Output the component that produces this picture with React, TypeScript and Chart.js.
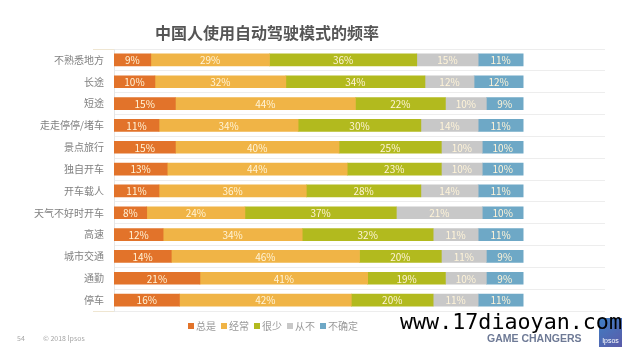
import React, { useEffect, useRef } from "react";
import { Chart, registerables } from "chart.js";

Chart.register(...registerables);

const categories = [
  "不熟悉地方",
  "长途",
  "短途",
  "走走停停/堵车",
  "景点旅行",
  "独自开车",
  "开车载人",
  "天气不好时开车",
  "高速",
  "城市交通",
  "通勤",
  "停车",
];

const seriesNames = ["总是", "经常", "很少", "从不", "不确定"];
const seriesColors = ["#E2732A", "#F0B446", "#B2BA1E", "#C8C8C8", "#6EA8C6"];

const always = [9, 10, 15, 11, 15, 13, 11, 8, 12, 14, 21, 16];
const often = [29, 32, 44, 34, 40, 44, 36, 24, 34, 46, 41, 42];
const rarely = [36, 34, 22, 30, 25, 23, 28, 37, 32, 20, 19, 20];
const never = [15, 12, 10, 14, 10, 10, 14, 21, 11, 11, 10, 11];
const unsure = [11, 12, 9, 11, 10, 10, 11, 10, 11, 9, 9, 11];

const seriesValues = [always, often, rarely, never, unsure];

const titleText = "中国人使用自动驾驶模式的频率";
const watermarkText = "www.17diaoyan.com";
const FONT = "'Noto Sans CJK SC', 'Noto Sans', sans-serif";

const decorPlugin = {
  id: "decor",
  afterDatasetsDraw(chart: any) {
    const ctx = chart.ctx;
    ctx.save();
    ctx.font = `10px ${FONT}`;
    ctx.textAlign = "center";
    ctx.textBaseline = "middle";
    ctx.fillStyle = "#FFF4D8";
    chart.data.datasets.forEach((ds: any, di: number) => {
      const meta = chart.getDatasetMeta(di);
      meta.data.forEach((bar: any, i: number) => {
        const v = ds.data[i];
        const cx = (bar.x + bar.base) / 2;
        ctx.fillText(v + "%", cx, bar.y + 0.5);
      });
    });
    ctx.restore();
  },
  afterDraw(chart: any) {
    const ctx = chart.ctx;
    ctx.save();
    ctx.font = `bold 16px ${FONT}`;
    ctx.fillStyle = "#555555";
    ctx.textAlign = "center";
    ctx.textBaseline = "middle";
    ctx.fillText(titleText, 267, 33);

    ctx.strokeStyle = "#EFE6D2";
    ctx.lineWidth = 1;
    ctx.beginPath();
    ctx.moveTo(93, 49.5);
    ctx.lineTo(114, 49.5);
    ctx.moveTo(93, 311.5);
    ctx.lineTo(114, 311.5);
    ctx.stroke();

    ctx.font = `10px ${FONT}`;
    ctx.textAlign = "left";
    ctx.textBaseline = "middle";
    let x = 188;
    const ly = 326;
    seriesNames.forEach((name, i) => {
      ctx.fillStyle = seriesColors[i];
      ctx.fillRect(x, ly - 3, 6, 6);
      ctx.fillStyle = "#999999";
      ctx.fillText(name, x + 8, ly);
      x += 8 + ctx.measureText(name).width + 5;
    });

    ctx.font = `7px ${FONT}`;
    ctx.fillStyle = "#A6A6A6";
    ctx.fillText("54", 17, 338);
    ctx.fillText("© 2018 Ipsos", 43, 338);

    ctx.font = "bold 10.5px 'Liberation Sans', Arial, sans-serif";
    ctx.fillStyle = "#6E7A96";
    ctx.fillText("GAME CHANGERS", 487, 339);

    const g = ctx.createLinearGradient(599, 318, 622, 347);
    g.addColorStop(0, "#3F7FC4");
    g.addColorStop(1, "#5B5AA8");
    ctx.fillStyle = g;
    ctx.fillRect(599, 318, 23, 29);
    ctx.fillStyle = "#FFFFFF";
    ctx.font = "7px 'Liberation Sans', Arial, sans-serif";
    ctx.textAlign = "center";
    ctx.fillText("Ipsos", 610.5, 341);

    ctx.font = "21.7px 'DejaVu Sans Mono', monospace";
    ctx.fillStyle = "#000000";
    ctx.textAlign = "left";
    ctx.textBaseline = "alphabetic";
    ctx.fillText(watermarkText, 400, 329);
    ctx.restore();
  },
};

export default function App() {
  const ref = useRef<HTMLCanvasElement | null>(null);
  useEffect(() => {
    if (!ref.current) return;
    const chart = new Chart(ref.current, {
      type: "bar",
      data: {
        labels: categories,
        datasets: seriesNames.map((name, i) => ({
          label: name,
          data: seriesValues[i],
          backgroundColor: seriesColors[i],
          borderWidth: 0,
          barThickness: 12,
        })),
      },
      options: {
        indexAxis: "y",
        animation: false,
        responsive: true,
        maintainAspectRatio: false,
        layout: { padding: { left: 0, right: 30, top: 49, bottom: 49 } },
        plugins: {
          legend: { display: false },
          tooltip: { enabled: false },
          title: { display: false },
        },
        scales: {
          x: {
            stacked: true,
            min: 0,
            max: 120,
            display: false,
          },
          y: {
            stacked: true,
            afterFit: (scale: any) => {
              scale.width = 114;
            },
            grid: {
              color: "#EDEDED",
              drawTicks: false,
              offset: true,
            },
            border: { display: true, color: "#E6E6E6" },
            ticks: {
              padding: 10,
              color: "#808080",
              font: { size: 10, family: FONT },
            },
          },
        },
      },
      plugins: [decorPlugin],
    });
    return () => chart.destroy();
  }, []);
  return (
    <div style={{ position: "absolute", left: 0, top: 0, width: 635, height: 360, background: "#fff" }}>
      <canvas ref={ref} />
    </div>
  );
}
